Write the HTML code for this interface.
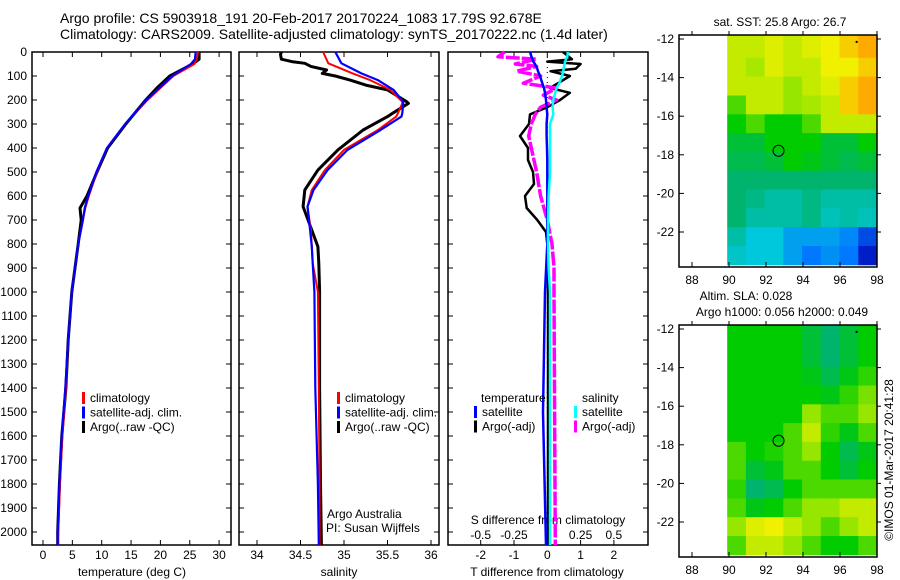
<!DOCTYPE html>
<html><head><meta charset="utf-8"><style>
html,body{margin:0;padding:0;background:#fff;}
svg{display:block;font-family:"Liberation Sans",sans-serif;}
text{font-size:12px;fill:#000;}
</style></head><body>
<svg id="s" width="900" height="580" viewBox="0 0 900 580">
<g>
<text x="60" y="23" style="font-size:14px">Argo profile: CS 5903918_191 20-Feb-2017 20170224_1083 17.79S 92.678E</text>
<text x="60" y="39" style="font-size:14px">Climatology: CARS2009. Satellite-adjusted climatology: synTS_20170222.nc (1.4d later)</text>
</g>
</svg>
<script>
// ---- data ----
const tDepth=[0,30,50,100,150,200,300,400,500,600,650,700,800,1000,1200,1400,1600,1800,2000,2054];
const tClim=[26.4,26.2,25.8,22.2,20,17.8,14,10.9,9.2,7.8,7.2,6.8,6.0,4.9,4.3,3.9,3.3,2.9,2.6,2.5];
const tSat=[26.0,25.9,25.2,22.0,19.8,17.6,14,10.9,9.1,7.7,7.1,6.8,6.0,4.9,4.3,3.8,3.2,2.8,2.5,2.5];
const tArgo=[26.6,26.6,25.5,21.6,19.4,17.5,14.1,11,9.2,7.5,6.3,6.5,6.0,4.9,4.3,3.9,3.2,2.8,2.5,2.5];
const sDepth=[0,47,89,117,138,158,207,214,255,269,325,408,492,575,644,742,811,880,1000,1400,1800,2054];
const sClim=[34.76,34.82,35.1,35.3,35.42,35.53,35.67,35.67,35.62,35.6,35.39,35.0,34.78,34.63,34.58,34.62,34.63,34.64,34.7,34.71,34.72,34.72];
const sSat=[34.9,34.97,35.2,35.39,35.48,35.57,35.68,35.68,35.67,35.66,35.42,35.04,34.81,34.65,34.58,34.61,34.63,34.64,34.66,34.67,34.7,34.71];
const sArgoDepth=[0,10,30,40,47,60,75,89,100,117,138,158,207,214,255,269,325,408,492,575,644,742,811,880,1000,1400,1800,2054];
const sArgo=[34.28,34.27,34.28,34.4,34.55,34.62,34.8,34.75,34.9,35.07,35.25,35.5,35.72,35.74,35.56,35.5,35.22,34.93,34.7,34.55,34.53,34.63,34.7,34.71,34.72,34.72,34.73,34.74];
const dtDepth=[0,30,40,50,70,80,100,130,150,170,200,230,260,300,350,400,450,500,550,600,650,700,750,800,1000,1500,2054];
const dtSat=[-0.52,-0.45,-0.42,-0.37,-0.3,-0.28,-0.22,-0.15,-0.1,-0.07,-0.04,-0.02,0,-0.02,-0.02,-0.01,0,0,0,0,0,0,0,0,-0.07,-0.13,-0.04];
const dtArgo=[0.47,0.74,0,1.0,0.85,0.1,0.68,0.32,0.08,0.68,0.38,0,-0.52,-0.55,-0.82,-0.58,-0.58,-0.43,-0.4,-0.67,-0.62,-0.3,-0.04,0,0.02,0.02,0.02];
const dsDepth=[0,20,30,50,60,80,100,130,150,180,200,230,260,300,350,400,500,600,700,800,900,1000,1500,2054];
const dsSat=[0.155,0.15,0.14,0.13,0.125,0.12,0.11,0.09,0.07,0.055,0.045,0.04,0.045,0.02,0.02,0.02,0.02,0.01,0.005,0.005,0.01,0.02,0.02,0.02];
const dsArgo=[-0.32,-0.37,-0.08,-0.24,-0.08,-0.23,-0.05,-0.18,0.07,-0.03,0.07,-0.05,-0.09,-0.12,-0.14,-0.12,-0.08,-0.05,0,0.035,0.05,0.05,0.055,0.06];
const depthTicks=[0,100,200,300,400,500,600,700,800,900,1000,1100,1200,1300,1400,1500,1600,1700,1800,1900,2000];
const tTicks=[0,5,10,15,20,25,30];
const sTicks=[34,34.5,35,35.5,36];
const sTickLabels=["34","34.5","35","35.5","36"];
const dTTicks=[-2,-1,0,1,2];
const dSTicks=[-0.5,-0.25,0,0.25,0.5];
const dSTickLabels=["-0.5","-0.25","0","0.25","0.5"];
const lonTicks=[88,90,92,94,96,98];
const latTicks=[-12,-14,-16,-18,-20,-22];
const argoLon=92.678, argoLat=-17.79;
// map values (colour index 0..10), rows lat -12..-23, cols lon 90..97
const sstGrid=[
[7.5,7.5,7.8,7.5,7.8,8,8.5,9],
[7.5,7.2,7.8,7.5,7.5,8,8,8.5],
[7.5,7.5,7.5,7,7.5,7.8,8.5,9],
[6.5,7.5,7.5,7,7.2,7.5,8.5,9],
[6,6.5,6,6,6.5,7.5,7.5,7.5],
[5.5,5.5,6,6,6,5.5,5.5,6],
[5.3,5.3,5.5,6,5.8,5.5,5.3,5.5],
[5,5,5,5,5,5,5,5],
[5,4.8,4.5,4.5,4.8,4.5,4.5,4.5],
[5,4.5,4.5,4.5,4.8,4.3,4.5,4.3],
[4.5,4,4,3.5,3.5,3.5,3.2,2.5],
[4.2,4,4,3.5,3,3.3,3,2]];
const slaGrid=[
[6,6,6,6,5.5,5,5.5,6],
[6,6,6,6,5.5,5,5.5,6],
[6,6,6,6,5.8,5.3,5.8,6.3],
[6,6,6,6,6,5.8,6.3,6.8],
[6,6,6,6,7,6.5,6.5,7],
[6,6,6,6.5,7.5,6.3,5.8,6.5],
[6.5,6,6.2,6.5,7,6,5.3,5.8],
[6.5,5.5,5.8,6.5,6.5,6,5.5,6],
[6.3,5,5.3,6,6.5,6.5,6.5,6.5],
[6.5,5.8,6,6.5,7,7,7.5,7.5],
[7,7.8,8,7.5,7,6.5,7,7.5],
[6.5,7.5,7.5,7,6.5,6,6,6.5]];

// ---- drawing ----
const NS="http://www.w3.org/2000/svg";
const svg=document.getElementById('s');
function mk(tag,attrs,parent,txt){const e=document.createElementNS(NS,tag);for(const k in attrs)e.setAttribute(k,attrs[k]);if(txt!==undefined)e.textContent=txt;(parent||svg).appendChild(e);return e;}
const Y0=52, Y1=545;
const yD=d=>Y0+d*0.24;

function panel(name,x0,x1){
  const g=mk('g',{});
  
  
  const r=mk('rect',{x:x0,y:Y0,width:x1-x0,height:Y1-Y0,fill:'none',stroke:'#000','stroke-width':1.5},g);
  
  
  return g;
}
function depthAxis(g,x0,x1,labels){
  depthTicks.forEach(d=>{
    const y=yD(d);
    mk('line',{x1:x0,y1:y,x2:x0+5,y2:y,stroke:'#000'},g);
    mk('line',{x1:x1,y1:y,x2:x1-5,y2:y,stroke:'#000'},g);
    if(labels){const t=mk('text',{x:27,y:y+4,'text-anchor':'end'},g,String(d));
      
      }
  });
}
function xAxis(g,ticks,labels,fx,ly){
  ticks.forEach((v,i)=>{const x=fx(v);
    mk('line',{x1:x,y1:Y1,x2:x,y2:Y1-5,stroke:'#000'},g);
    mk('line',{x1:x,y1:Y0,x2:x,y2:Y0+5,stroke:'#000'},g);
    const t=mk('text',{x:x,y:ly,'text-anchor':'middle'},g,labels[i]);
    
    
  });
}
function line(g,name,xs,ds,fx,color,w,dash){
  const p=xs.map((v,i)=>fx(v).toFixed(1)+','+yD(ds[i]).toFixed(1)).join(' ');
  const e=mk('polyline',{points:p,fill:'none',stroke:color,'stroke-width':w,'stroke-linejoin':'round'},g);
  if(dash)e.setAttribute('stroke-dasharray',dash);
  
  
}
function legend(g,x,y,items){
  items.forEach((it,i)=>{
    const yy=y+i*14.5;
    mk('rect',{x:x,y:yy-10,width:3,height:12,fill:it[1]},g);
    const t=mk('text',{x:x+8,y:yy},g,it[0]);
    
    
  });
}
// Panel 1 temperature
const fT=v=>43+v*5.87;
const p1=panel('temperature-panel',32,231);
depthAxis(p1,32,231,true);
xAxis(p1,tTicks,tTicks.map(String),fT,559);
mk('text',{x:132,y:576,'text-anchor':'middle'},p1,'temperature (deg C)');
line(p1,'temp-argo',tArgo,tDepth,fT,'#000',3);
line(p1,'temp-climatology',tClim,tDepth,fT,'#f00',2);
line(p1,'temp-satellite',tSat,tDepth,fT,'#00f',2.2);
legend(p1,82,402,[['climatology','#f00'],['satellite-adj. clim.','#00f'],['Argo(..raw -QC)','#000']]);
// Panel 2 salinity
const fS=v=>257+(v-34)*87;
const p2=panel('salinity-panel',239,439);
depthAxis(p2,239,439,false);
xAxis(p2,sTicks,sTickLabels,fS,559);
mk('text',{x:339,y:576,'text-anchor':'middle'},p2,'salinity');
line(p2,'sal-argo',sArgo,sArgoDepth,fS,'#000',3);
line(p2,'sal-climatology',sClim,sDepth,fS,'#f00',2);
line(p2,'sal-satellite',sSat,sDepth,fS,'#00f',2.2);
legend(p2,337,402,[['climatology','#f00'],['satellite-adj. clim.','#00f'],['Argo(..raw -QC)','#000']]);
mk('text',{x:327,y:518},p2,'Argo Australia');
mk('text',{x:326,y:532},p2,'PI: Susan Wijffels');
// Panel 3 differences
const fDT=v=>547.3+v*33.3;
const fDS=v=>547.3+v*133.2;
const p3=panel('difference-panel',448,648);
depthAxis(p3,448,648,false);
dTTicks.forEach(v=>{const x=fDT(v);
  mk('line',{x1:x,y1:Y1,x2:x,y2:Y1-5,stroke:'#000'},p3);
  mk('line',{x1:x,y1:Y0,x2:x,y2:Y0+5,stroke:'#000'},p3);
  const t=mk('text',{x:x,y:559,'text-anchor':'middle'},p3,String(v));
  
  });
dSTicks.forEach((v,i)=>{const x=fDS(v);
  const t=mk('text',{x:x,y:539,'text-anchor':'middle'},p3,dSTickLabels[i]);
  
  });
mk('text',{x:548,y:524,'text-anchor':'middle'},p3,'S difference from climatology');
mk('text',{x:547,y:576,'text-anchor':'middle'},p3,'T difference from climatology');
mk('line',{x1:547.3,y1:52,x2:547.3,y2:545,stroke:'#000','stroke-dasharray':'1,4'},p3);
line(p3,'dtemp-argo',dtArgo,dtDepth,fDT,'#000',2.5);
line(p3,'dsal-argo',dsArgo,dsDepth,fDS,'#f0f',3.5,'14,2');
line(p3,'dtemp-satellite',dtSat,dtDepth,fDT,'#00f',2.5);
line(p3,'dsal-satellite',dsSat,dsDepth,fDS,'#0ff',2.5);
mk('text',{x:481,y:402},p3,'temperature');
mk('text',{x:582,y:402},p3,'salinity');
legend(p3,474,416,[['satellite','#00f'],['Argo(-adj)','#000']]);
legend(p3,574,416,[['satellite','#0ff'],['Argo(-adj)','#f0f']]);

// Maps
function cmap(v){
  const stops=[[0,[0,0,140]],[2,[0,30,200]],[3,[0,120,255]],[4,[0,200,220]],[5,[0,180,110]],[6,[0,204,0]],[7,[150,230,0]],[8,[240,240,0]],[9,[255,170,0]],[10,[255,60,0]]];
  for(let i=1;i<stops.length;i++){if(v<=stops[i][0]){const a=stops[i-1],b=stops[i],t=(v-a[0])/(b[0]-a[0]);
    return 'rgb('+a[1].map((c,k)=>Math.round(c+(b[1][k]-c)*t)).join(',')+')';}}
  return 'rgb(255,60,0)';
}
function map(name,top,grid,title){
  const g=mk('g',{});
  
  
  const fx=lon=>692+(lon-88)*18.5, fy=lat=>top+4+(-12-lat)*19.3;
  grid.forEach((row,r)=>row.forEach((v,c)=>{
    const x0=fx(89.9+c*(98-89.9)/8), x1=fx(89.9+(c+1)*(98-89.9)/8);
    const y0=r===0?fy(-11.8):fy(-12-r*(11.7/12)), y1=fy(-12-(r+1)*(11.7/12));
    const cell=mk('rect',{x:x0.toFixed(1),y:y0.toFixed(1),width:(x1-x0+0.5).toFixed(1),height:(y1-y0+0.5).toFixed(1),fill:cmap(v)},g);
    
    
  }));
  const fr=mk('rect',{x:679,y:top,width:198,height:232,fill:'none',stroke:'#000','stroke-width':1.5},g);
  
  
  lonTicks.forEach(l=>{const x=fx(l);
    mk('line',{x1:x,y1:top+232,x2:x,y2:top+227,stroke:'#000'},g);
    mk('line',{x1:x,y1:top,x2:x,y2:top-4,stroke:'#000'},g);
    const t=mk('text',{x:x,y:top+249,'text-anchor':'middle'},g,String(l));
    
    });
  latTicks.forEach(l=>{const y=fy(l);
    mk('line',{x1:679,y1:y,x2:684,y2:y,stroke:'#000'},g);
    mk('line',{x1:877,y1:y,x2:881,y2:y,stroke:'#000'},g);
    const t=mk('text',{x:674,y:y+4,'text-anchor':'end'},g,String(l));
    
    });
  const c=mk('circle',{cx:fx(argoLon),cy:fy(argoLat),r:5.5,fill:'none',stroke:'#000','stroke-width':1},g);
  
  
  mk('rect',{x:fx(96.9)-1,y:fy(-12.15)-1,width:2,height:2,fill:'#000'},g);
  title.forEach(tt=>{const t=mk('text',{x:tt[0],y:tt[1],'text-anchor':'middle'},g,tt[2]);
    
    });
}
map('sst-map',35,sstGrid,[[780,26,'sat. SST: 25.8 Argo: 26.7']]);
map('sla-map',325,slaGrid,[[746,300,'Altim. SLA: 0.028'],[782,316,'Argo h1000: 0.056 h2000: 0.049']]);
const cr=mk('text',{x:0,y:0,'text-anchor':'middle',transform:'translate(893,460) rotate(-90)'},svg,'©IMOS 01-Mar-2017 20:41:28');


</script>
</body></html>
